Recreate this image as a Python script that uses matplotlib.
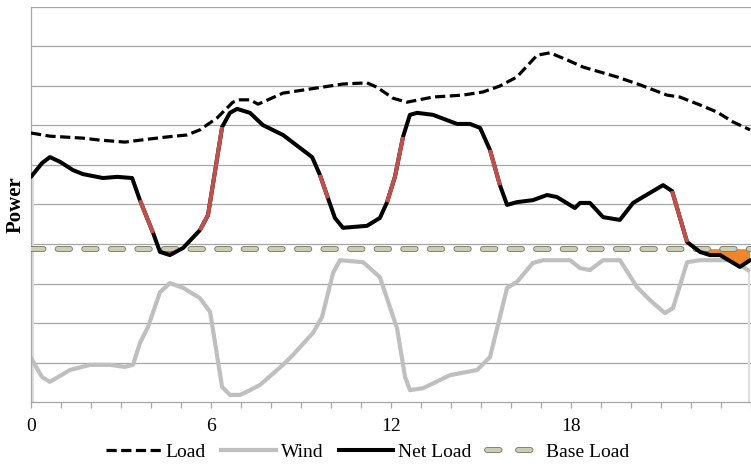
import numpy as np
import matplotlib
matplotlib.use("Agg")
from matplotlib import pyplot as plt
from matplotlib.lines import Line2D
import matplotlib.patheffects as pe

# hours / values (y axis in grid units, 0..10)
load_h = [0.0, 0.63, 1.73, 2.30, 3.13, 3.97, 4.53, 5.20, 5.63, 6.20, 6.73, 6.97, 7.30, 7.57,
          8.40, 9.53, 10.40, 11.20, 11.53, 12.07, 12.53, 13.40, 14.40, 15.07, 15.63, 16.20,
          16.87, 17.30, 17.87, 18.40, 19.53, 20.30, 21.20, 21.63, 22.30, 22.87, 23.40, 23.97]
load_v = [6.81, 6.73, 6.68, 6.63, 6.58, 6.66, 6.71, 6.76, 6.89, 7.19, 7.59, 7.65, 7.65, 7.54,
          7.82, 7.95, 8.05, 8.08, 7.97, 7.69, 7.59, 7.72, 7.77, 7.85, 8.00, 8.23,
          8.78, 8.84, 8.66, 8.48, 8.23, 8.03, 7.77, 7.72, 7.52, 7.34, 7.09, 6.89]

wind_h = [0.0, 0.37, 0.63, 1.30, 1.97, 2.63, 3.13, 3.40, 3.63, 3.90, 4.30, 4.63, 5.07, 5.63,
          5.97, 6.37, 6.63, 6.97, 7.30, 7.63, 8.40, 8.73, 9.40, 9.70, 10.07, 10.30, 11.07,
          11.63, 12.20, 12.47, 12.63, 13.07, 13.97, 14.87, 15.30, 15.63, 15.87, 16.20, 16.73,
          17.07, 17.97, 18.30, 18.63, 19.07, 19.63, 20.20, 20.63, 21.13, 21.40, 21.87, 22.30,
          23.40, 23.90]
wind_v = [1.11, 0.63, 0.51, 0.81, 0.94, 0.94, 0.89, 0.94, 1.49, 1.90, 2.78, 3.01, 2.89, 2.63,
          2.28, 0.38, 0.18, 0.18, 0.30, 0.43, 0.94, 1.19, 1.75, 2.15, 3.27, 3.59, 3.54,
          3.16, 1.87, 0.63, 0.30, 0.35, 0.68, 0.81, 1.14, 2.15, 2.89, 3.04, 3.52,
          3.59, 3.59, 3.39, 3.34, 3.59, 3.59, 2.91, 2.58, 2.25, 2.38, 3.54, 3.59,
          3.59, 3.34]

net_h = [0.0, 0.37, 0.63, 0.97, 1.40, 1.73, 2.40, 2.87, 3.37, 3.63, 4.07, 4.30, 4.63, 5.07,
         5.63, 5.90, 6.37, 6.63, 6.87, 7.30, 7.73, 8.40, 9.37, 9.63, 9.90, 10.13, 10.40,
         11.20, 11.63, 11.87, 12.13, 12.40, 12.63, 12.87, 13.40, 14.20, 14.63, 14.97, 15.30,
         15.63, 15.87, 16.20, 16.73, 17.20, 17.53, 18.13, 18.30, 18.63, 19.07, 19.63, 20.07,
         20.40, 21.07, 21.37, 21.87, 22.30, 22.63, 22.97, 23.63, 23.97]
net_v = [5.70, 6.05, 6.20, 6.08, 5.87, 5.77, 5.67, 5.70, 5.67, 5.11, 4.28, 3.80, 3.72, 3.90,
         4.35, 4.73, 6.96, 7.32, 7.42, 7.32, 7.01, 6.76, 6.20, 5.75, 5.16, 4.66, 4.41,
         4.46, 4.66, 5.06, 5.70, 6.71, 7.27, 7.32, 7.27, 7.04, 7.04, 6.94, 6.38,
         5.49, 4.99, 5.06, 5.11, 5.24, 5.19, 4.91, 5.04, 5.04, 4.68, 4.61, 5.04,
         5.19, 5.49, 5.34, 4.05, 3.80, 3.72, 3.72, 3.42, 3.59]

# steep ramps of the net load (start hour, end hour)
ramps = [(3.63, 4.07), (5.63, 6.37), (9.63, 9.90), (11.87, 12.40), (15.30, 15.63), (21.37, 21.87)]
base_load = 3.87

xticks = list(range(0, 25))
xlabels = ["0", "", "", "", "", "", "6", "", "", "", "", "", "12",
           "", "", "", "", "", "18", "", "", "", "", "", ""]

plt.rcParams['font.family'] = ['Liberation Serif', 'DejaVu Serif']

fig = plt.figure(figsize=(7.51, 4.65), dpi=100)
ax = fig.add_axes([31 / 751, 63 / 465, 720 / 751, 395 / 465])
ax.set_xlim(0, 24)
ax.set_ylim(0, 10)

grid_col = "#a6a6a6"
for yy in range(1, 11):
    ax.axhline(yy, color=grid_col, lw=0.9, zorder=1)

# faint vertical edges at both ends
ax.plot([0.05, 0.05], [0, net_v[0]], color="#dedede", lw=1.5, zorder=1.5)
ax.plot([23.93, 23.93], [0, wind_v[-1]], color="#dedede", lw=1.5, zorder=1.5)

ax.plot(wind_h, wind_v, color="#bfbfbf", lw=3.0, zorder=2, solid_joinstyle="round")

nh = np.array(net_h)
nv = np.array(net_v)
ax.fill_between(nh, nv, base_load, where=nv < base_load, interpolate=True,
                color="#f0862a", lw=0, zorder=2.5)

base_fx = [pe.Stroke(linewidth=4.2, foreground="#7a7a68"), pe.Normal()]
ax.plot([0, 24], [base_load, base_load], color="#cdcdb6", lw=2.9,
        dashes=[3.1, 3.5], dash_capstyle="round", zorder=3, path_effects=base_fx)

ax.plot(load_h, load_v, color="black", lw=2.3, dashes=[3.2, 1.4], zorder=4)

ax.plot(nh, nv, color="black", lw=2.9, zorder=5, solid_joinstyle="round", solid_capstyle="round")
for a, b in ramps:
    m = (nh >= a - 1e-6) & (nh <= b + 1e-6)
    ax.plot(nh[m], nv[m], color="#c0504d", lw=2.9, zorder=6, solid_capstyle="butt")

for s in ["top", "right"]:
    ax.spines[s].set_visible(False)
for s in ["left", "bottom"]:
    ax.spines[s].set_color(grid_col)
    ax.spines[s].set_linewidth(0.9)

ax.set_yticks([])
ax.set_xticks(xticks)
ax.set_xticklabels(xlabels, fontsize=14)
ax.tick_params(axis="x", length=4.5, width=0.9, color=grid_col, pad=7)

ax.set_ylabel("Power", fontsize=15, fontweight="bold")
ax.yaxis.set_label_coords(-0.008, 0.5)

handles = [
    Line2D([], [], color="black", lw=2.3, dashes=[3.2, 1.4]),
    Line2D([], [], color="#bfbfbf", lw=3.0),
    Line2D([], [], color="black", lw=2.9),
    Line2D([], [], color="#cdcdb6", lw=2.9, dashes=[3.1, 4.6], dash_capstyle="round",
           path_effects=base_fx),
]
fig.legend(handles, ["Load", "Wind", "Net Load", "Base Load"], loc="center",
           bbox_to_anchor=(0.49, 13 / 465), ncol=4, frameon=False, fontsize=14,
           handlelength=2.8, handletextpad=0.25, columnspacing=0.8)

fig.savefig("out.png", dpi=100)
